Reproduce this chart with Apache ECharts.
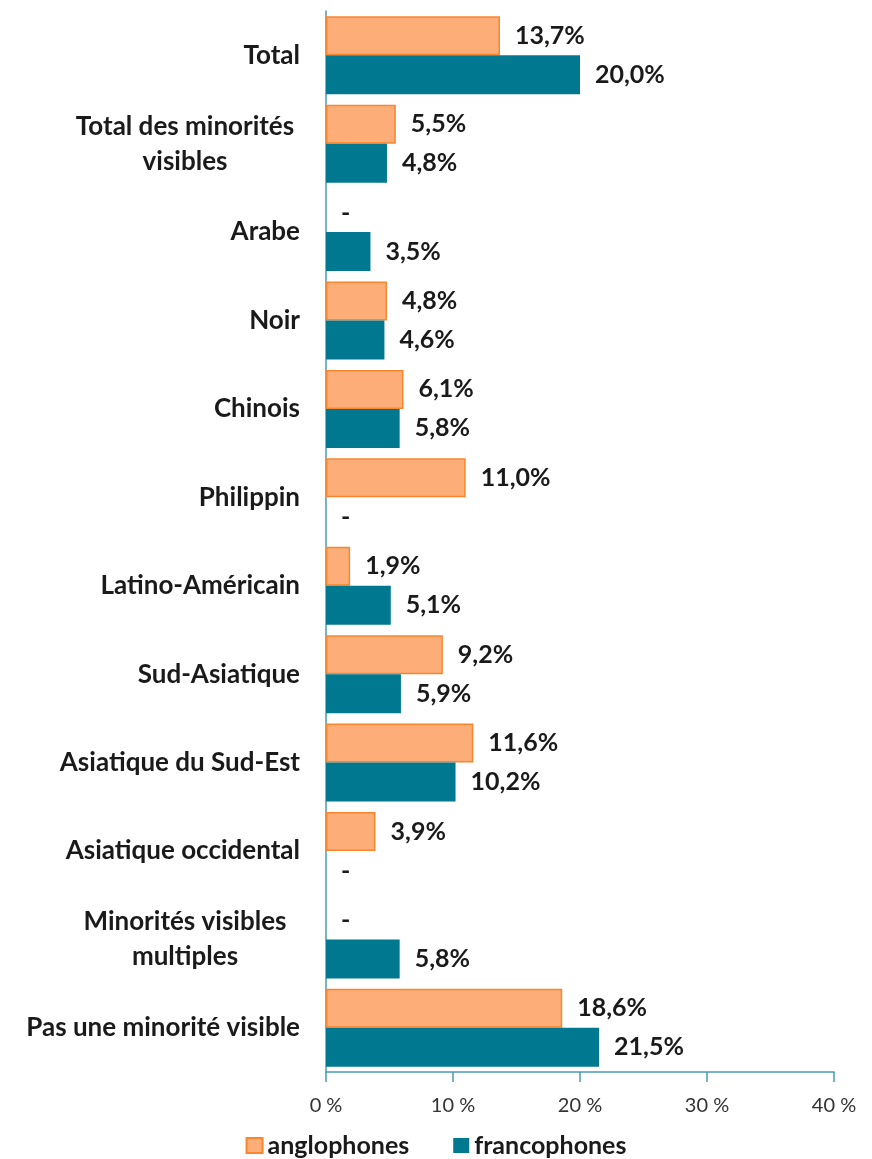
<!DOCTYPE html>
<html lang="fr">
<head>
    <meta charset="UTF-8">
    <title>Minorités visibles</title>
    <script src="https://cdn.jsdelivr.net/npm/echarts@6/dist/echarts.min.js"></script>
    <style>
        html, body { margin: 0; padding: 0; background: #fff; }
    </style>
</head>
<body>
<div id="echart" style="width:872px;height:1159px"></div>
<script>
    // categories, top to bottom
    var categories = ['Total', 'Total des minorités\nvisibles', 'Arabe', 'Noir', 'Chinois', 'Philippin',
        'Latino-Américain', 'Sud-Asiatique', 'Asiatique du Sud-Est', 'Asiatique occidental',
        'Minorités visibles\nmultiples', 'Pas une minorité visible']
    // null = "-" in the source
    var anglophones = [13.7, 5.5, null, 4.8, 6.1, 11.0, 1.9, 9.2, 11.6, 3.9, null, 18.6]
    var francophones = [20.0, 4.8, 3.5, 4.6, 5.8, null, 5.1, 5.9, 10.2, null, 5.8, 21.5]
    var xTicks = [0, 10, 20, 30, 40]

    var FONT = 'Lato, "Open Sans", sans-serif'

    function toData(arr) {
        var out = []
        for (var i = 0; i < arr.length; i++) {
            if (arr[i] === null) {
                out.push({value: 0, itemStyle: {borderWidth: 0}})
            } else {
                out.push(arr[i])
            }
        }
        return out
    }

    function fmtLabel(p) {
        if (!p.value) return '-'
        return p.value.toFixed(1).replace('.', ',') + '%'
    }

    var barLabel = {
        show: true,
        position: 'right',
        distance: 15,
        formatter: fmtLabel,
        fontFamily: FONT,
        fontWeight: 'bold',
        fontSize: 25,
        color: '#1a1a1a'
    }

    myChart = echarts.init(document.getElementById('echart'))
    myChart.setOption({
        animation: false,
        grid: {left: 326, right: 38, top: 11, bottom: 87, containLabel: false},
        legend: {
            top: 1128,
            left: 'center',
            itemWidth: 16,
            itemHeight: 15,
            itemGap: 44,
            icon: 'rect',
            textStyle: {fontFamily: FONT, fontWeight: 'bold', fontSize: 25, color: '#1a1a1a'},
            data: ['anglophones', 'francophones']
        },
        xAxis: {
            type: 'value',
            min: 0,
            max: 40,
            interval: 10,
            splitLine: {show: false},
            axisLine: {show: true, lineStyle: {color: '#4a9bb0', width: 1.5}},
            axisTick: {show: true, length: 10, lineStyle: {color: '#4a9bb0', width: 1.5}},
            axisLabel: {
                margin: 24,
                fontFamily: FONT,
                fontSize: 20,
                color: '#333',
                formatter: function (v) { return xTicks.indexOf(v) >= 0 ? v + ' %' : '' }
            }
        },
        yAxis: {
            type: 'category',
            inverse: true,
            data: categories,
            axisLine: {show: true, lineStyle: {color: '#4a9bb0', width: 1.5}},
            axisTick: {show: false},
            axisLabel: {
                margin: 26,
                fontFamily: FONT,
                fontWeight: 'bold',
                fontSize: 26,
                color: '#1a1a1a',
                lineHeight: 35,
                formatter: function (v) {
                    var parts = v.split('\n')
                    if (parts.length === 1) return v
                    return parts.map(function (s) { return '{c|' + s + '}' }).join('\n')
                },
                rich: {
                    c: {width: 230, align: 'center', fontFamily: FONT, fontWeight: 'bold', fontSize: 26, color: '#1a1a1a', lineHeight: 35}
                }
            }
        },
        series: [{
            name: 'anglophones',
            type: 'bar',
            data: toData(anglophones),
            barWidth: 39,
            barGap: '0%',
            itemStyle: {color: '#fdae78', borderColor: '#f7862f', borderWidth: 1.5},
            label: barLabel
        }, {
            name: 'francophones',
            type: 'bar',
            data: toData(francophones),
            barWidth: 39,
            barGap: '0%',
            itemStyle: {color: '#00788f'},
            label: barLabel
        }]
    })
</script>
</body>
</html>
